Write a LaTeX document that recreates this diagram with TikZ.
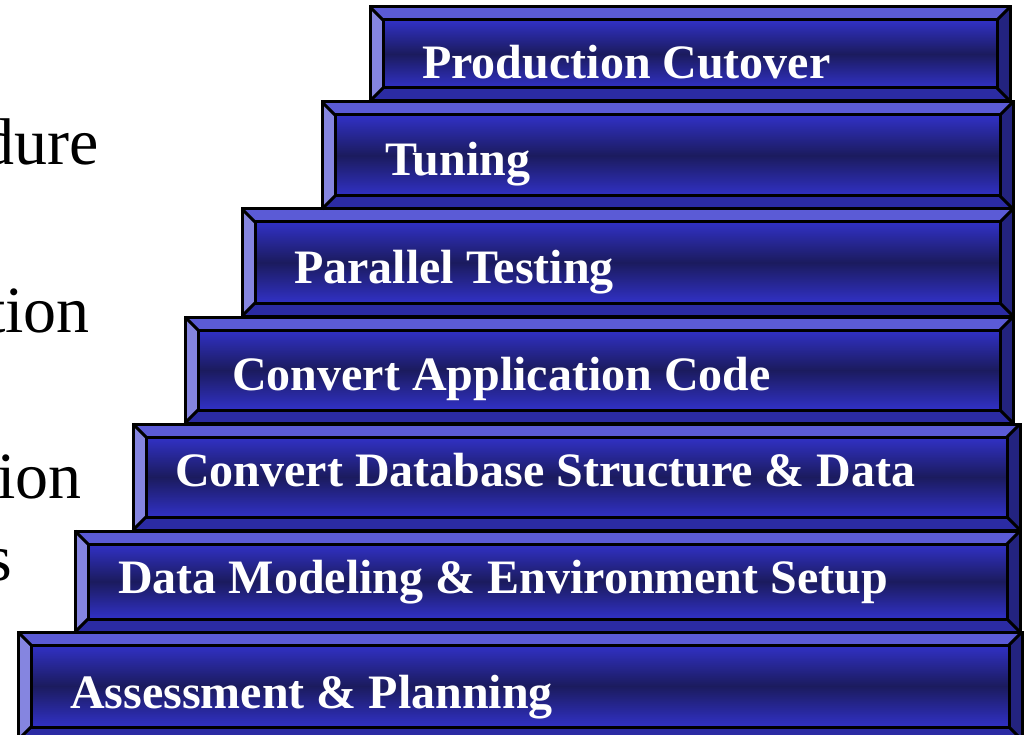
\documentclass[tikz,border=0pt]{standalone}
\usepackage{fontspec}
\setmainfont{Liberation Serif}
\usetikzlibrary{positioning}

\definecolor{bevtop}{HTML}{5B5BD6}
\definecolor{bevleft}{HTML}{8585E0}
\definecolor{bevright}{HTML}{23237F}
\definecolor{bevbot}{HTML}{2B2BA3}
\definecolor{facelight}{HTML}{3131C6}
\definecolor{facedark}{HTML}{1B1B5E}

\tikzset{stair/.style={
        anchor=north west,
        inner sep=0pt,
        outer sep=0pt } }
\tikzset{stairtext/.style={
        anchor=base west,
        inner sep=0pt,
        text=white,
        font=\fontsize{48}{50}\selectfont\bfseries } }
\tikzset{sidetext/.style={
        anchor=base east,
        inner sep=0pt,
        font=\fontsize{66}{70}\selectfont } }
\tikzset{edge/.style={ line width=3pt, line join=miter, black } }

% bevelled bar on a named node
\newcommand{\bevelbar}[1]{%
\fill[bevtop] (#1.north west) -- (#1.north east) -- ([shift={(-13,13)}]#1.north east) -- ([shift={(13,13)}]#1.north west) -- cycle;
\fill[bevbot] (#1.south west) -- (#1.south east) -- ([shift={(-13,-13)}]#1.south east) -- ([shift={(13,-13)}]#1.south west) -- cycle;
\fill[bevleft] (#1.north west) -- ([shift={(13,13)}]#1.north west) -- ([shift={(13,-13)}]#1.south west) -- (#1.south west) -- cycle;
\fill[bevright] (#1.north east) -- ([shift={(-13,13)}]#1.north east) -- ([shift={(-13,-13)}]#1.south east) -- (#1.south east) -- cycle;
\shade[top color=facelight, bottom color=facelight, middle color=facedark]
([shift={(13,13)}]#1.north west) rectangle ([shift={(-13,-13)}]#1.south east);
\draw[edge] (#1.north west) rectangle (#1.south east);
\draw[edge] ([shift={(13,13)}]#1.north west) rectangle ([shift={(-13,-13)}]#1.south east);
\draw[edge] (#1.north west) -- ([shift={(13,13)}]#1.north west);
\draw[edge] (#1.north east) -- ([shift={(-13,13)}]#1.north east);
\draw[edge] (#1.south west) -- ([shift={(13,-13)}]#1.south west);
\draw[edge] (#1.south east) -- ([shift={(-13,-13)}]#1.south east);
}

\begin{document}
\begin{tikzpicture}[x=1pt,y=-1pt]

\useasboundingbox[fill=white] (0,0) rectangle (1024,735);

%%SLIDE TEXT cut at the left
\node[sidetext] (side1) at (99,165) {dure};
\node[sidetext] (side2) at (90,332) {tion};
\node[sidetext] (side3) at (82,498) {ion};
\node[sidetext] (side4) at (12,580) {s};

%%STEPS, bottom first
\node[stair, minimum width=1004pt, minimum height=108pt] (planning) at (18,632) {};
\bevelbar{planning}
\node[stair, minimum width=945pt, minimum height=101pt] (modeling) at (75,531) {};
\bevelbar{modeling}
\node[stair, minimum width=887pt, minimum height=106pt] (database) at (133,424) {};
\bevelbar{database}
\node[stair, minimum width=828pt, minimum height=106pt] (appcode) at (185,317) {};
\bevelbar{appcode}
\node[stair, minimum width=771pt, minimum height=107pt] (testing) at (242,209) {};
\bevelbar{testing}
\node[stair, minimum width=691pt, minimum height=107pt] (tuning) at (322,102) {};
\bevelbar{tuning}
\node[stair, minimum width=640pt, minimum height=94pt] (cutover) at (370,7) {};
\bevelbar{cutover}

%%LABELS
\node[stairtext] (planningtxt) at (70,708) {Assessment \& Planning};
\node[stairtext] (modelingtxt) at (118,593) {Data Modeling \& Environment Setup};
\node[stairtext] (databasetxt) at (175,486) {Convert Database Structure \& Data};
\node[stairtext] (appcodetxt) at (232,390) {Convert Application Code};
\node[stairtext] (testingtxt) at (294,283) {Parallel Testing};
\node[stairtext] (tuningtxt) at (385,176) {Tuning};
\node[stairtext] (cutovertxt) at (422,79) {Production Cutover};

\end{tikzpicture}
\end{document}
